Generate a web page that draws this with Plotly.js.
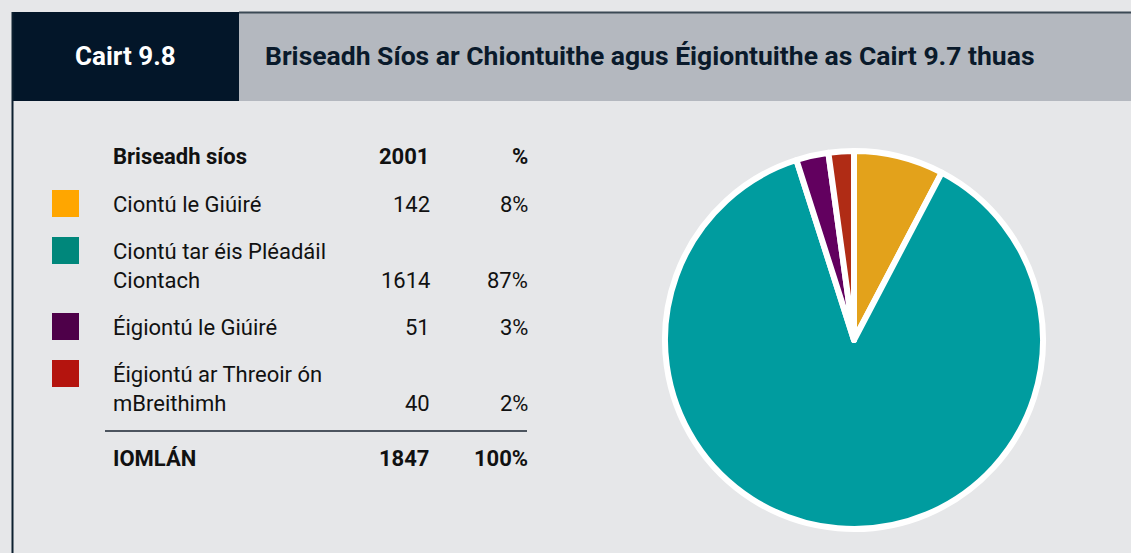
<!DOCTYPE html>
<html>
<head>
<meta charset="utf-8">
<script src="https://cdn.plot.ly/plotly-3.0.1.min.js"></script>
<style>
  html, body { margin: 0; padding: 0; background: #e6e7e9; }
  #chart { width: 1131px; height: 553px; }
</style>
</head>
<body>
<div id="chart"></div>
<script>
// ---- data ----
var chartNumber = 'Cairt 9.8';
var chartTitle = 'Briseadh Síos ar Chiontuithe agus Éigiontuithe as Cairt 9.7 thuas';
var headerLabel = 'Briseadh síos';
var headerYear = '2001';
var headerPct = '%';
var categories = ['Ciontú le Giúiré', 'Ciontú tar éis Pléadáil Ciontach', 'Éigiontú le Giúiré', 'Éigiontú ar Threoir ón mBreithimh'];
var categoryLines = [['Ciontú le Giúiré'], ['Ciontú tar éis Pléadáil', 'Ciontach'], ['Éigiontú le Giúiré'], ['Éigiontú ar Threoir ón', 'mBreithimh']];
var counts2001 = [142, 1614, 51, 40];
var percents = ['8%', '87%', '3%', '2%'];
var totalLabel = 'IOMLÁN';
var totalCount = '1847';
var totalPct = '100%';

// ---- styles ----
var pieColors = ['#e3a21b', '#009c9f', '#62005f', '#b02c15'];
var keyColors = ['#ffa600', '#00877b', '#4e0049', '#b4140e'];

var W = 1131, H = 553;
function px(x) { return x / W; }
function py(y) { return 1 - y / H; }

var FONT = 'Roboto, "Noto Sans", sans-serif';
var shapes = [];
var annotations = [];

// header
shapes.push({type: 'rect', xref: 'paper', yref: 'paper', x0: px(12), x1: px(239), y0: py(101), y1: py(12), fillcolor: '#031629', line: {width: 0}, layer: 'below'});
shapes.push({type: 'rect', xref: 'paper', yref: 'paper', x0: px(239), x1: px(1131), y0: py(101), y1: py(12), fillcolor: '#b4b8bf', line: {width: 0}, layer: 'below'});
shapes.push({type: 'line', xref: 'paper', yref: 'paper', x0: px(239), x1: px(1131), y0: py(12.5), y1: py(12.5), line: {color: '#3b4955', width: 2}});
shapes.push({type: 'line', xref: 'paper', yref: 'paper', x0: px(12.5), x1: px(12.5), y0: py(12), y1: py(553), line: {color: '#0d2030', width: 2}});

annotations.push({xref: 'paper', yref: 'paper', x: px(125), y: py(56), xanchor: 'center', yanchor: 'middle', showarrow: false, text: '<b>' + chartNumber + '</b>', font: {family: FONT, size: 26, color: '#ffffff'}});
annotations.push({xref: 'paper', yref: 'paper', x: px(263), y: py(56), xanchor: 'left', yanchor: 'middle', showarrow: false, text: '<b>' + chartTitle + '</b>', font: {family: FONT, size: 26.5, color: '#0a1a2b'}});

// table
var xLabel = 111, xCount = 432, xPct = 530;
var tf = {family: FONT, size: 22, color: '#111111'};
function txt(x, base, s, anchor, bold) {
  annotations.push({xref: 'paper', yref: 'paper', x: px(x), y: py(base - 7.5), xanchor: anchor, yanchor: 'middle', showarrow: false,
    text: bold ? '<b>' + s + '</b>' : s, font: tf});
}
txt(xLabel, 164, headerLabel, 'left', true);
txt(xCount, 164, headerYear, 'right', true);
txt(xPct, 164, headerPct, 'right', true);

var base = 212;
for (var i = 0; i < categories.length; i++) {
  var lines = categoryLines[i];
  shapes.push({type: 'rect', xref: 'paper', yref: 'paper', x0: px(52), x1: px(79), y0: py(base + 5), y1: py(base - 22), fillcolor: keyColors[i], line: {width: 0}});
  for (var j = 0; j < lines.length; j++) {
    txt(xLabel, base + 29 * j, lines[j], 'left', false);
  }
  var last = base + 29 * (lines.length - 1);
  txt(xCount, last, String(counts2001[i]), 'right', false);
  txt(xPct, last, percents[i], 'right', false);
  base = last + 47;
}
shapes.push({type: 'line', xref: 'paper', yref: 'paper', x0: px(105), x1: px(527), y0: py(431), y1: py(431), line: {color: '#1a2530', width: 1.5}});
txt(xLabel, 466, totalLabel, 'left', true);
txt(xCount, 466, totalCount, 'right', true);
txt(xPct, 466, totalPct, 'right', true);

var trace = {
  type: 'pie',
  labels: categories,
  values: counts2001,
  sort: false,
  direction: 'clockwise',
  rotation: 0,
  textinfo: 'none',
  hoverinfo: 'label+value',
  marker: {colors: pieColors, line: {color: '#ffffff', width: 6}},
  domain: {x: [px(665), px(1043)], y: [py(529), py(151)]},
  showlegend: false
};

var layout = {
  width: W, height: H,
  margin: {l: 0, r: 0, t: 0, b: 0},
  paper_bgcolor: '#e6e7e9',
  plot_bgcolor: '#e6e7e9',
  showlegend: false,
  shapes: shapes,
  annotations: annotations
};

Plotly.newPlot('chart', [trace], layout, {displayModeBar: false, staticPlot: true});
</script>
</body>
</html>
